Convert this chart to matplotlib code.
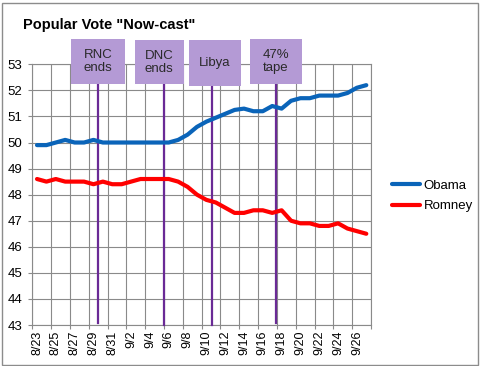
import matplotlib
matplotlib.use('Agg')
import matplotlib.pyplot as plt
from matplotlib.patches import Rectangle
from matplotlib.lines import Line2D

plt.rcParams['font.family'] = ['Liberation Sans', 'DejaVu Sans']

# ---------------- data ----------------
dates = ['8/23', '8/24', '8/25', '8/26', '8/27', '8/28', '8/29', '8/30', '8/31',
         '9/1', '9/2', '9/3', '9/4', '9/5', '9/6', '9/7', '9/8', '9/9', '9/10',
         '9/11', '9/12', '9/13', '9/14', '9/15', '9/16', '9/17', '9/18', '9/19',
         '9/20', '9/21', '9/22', '9/23', '9/24', '9/25', '9/26', '9/27']
obama = [49.9, 49.9, 50.0, 50.1, 50.0, 50.0, 50.1, 50.0, 50.0, 50.0, 50.0, 50.0,
         50.0, 50.0, 50.0, 50.1, 50.3, 50.6, 50.8, 50.95, 51.1, 51.25, 51.3, 51.2,
         51.2, 51.4, 51.3, 51.6, 51.7, 51.7, 51.8, 51.8, 51.8, 51.9, 52.1, 52.2]
romney = [48.6, 48.5, 48.6, 48.5, 48.5, 48.5, 48.4, 48.5, 48.4, 48.4, 48.5, 48.6,
          48.6, 48.6, 48.6, 48.5, 48.3, 48.0, 47.8, 47.7, 47.5, 47.3, 47.3, 47.4,
          47.4, 47.3, 47.4, 47.0, 46.9, 46.9, 46.8, 46.8, 46.9, 46.7, 46.6, 46.5]
series_names = ['Obama', 'Romney']
events = ['RNC\nends', 'DNC\nends', 'Libya', '47%\ntape']
yticks = [43, 44, 45, 46, 47, 48, 49, 50, 51, 52, 53]

# ---------------- layout ----------------
event_x = [6.95, 14.0, 19.1, 25.9]
event_line_bottom = [43.08, 43.0, 43.0, 43.08]
box_left = [4.11, 10.91, 16.65, 23.14]
box_right = [9.85, 16.09, 22.15, 28.63]
box_bottom = [52.26, 52.24, 52.17, 52.23]
box_top = [53.96, 53.93, 53.92, 53.96]

W, H = 480, 366
fig = plt.figure(figsize=(W / 100, H / 100), dpi=100)
ax = fig.add_axes([32.3 / W, 1 - 325 / H, (371 - 32.3) / W, (325 - 64.3) / H])

grid_c = '#8a8a8a'
n = len(dates)
xs = [i + 0.5 for i in range(n)]

ax.set_xlim(0, n)
ax.set_ylim(43, 53)

# grid
ax.set_xticks(range(0, n + 1, 2))
ax.set_xticks([i + 0.5 for i in range(0, n, 2)], minor=True)
ax.set_xticklabels([])
ax.set_xticklabels(dates[::2], minor=True, rotation=90, fontsize=9)
ax.tick_params(axis='x', which='major', length=3, color=grid_c, width=0.8)
ax.tick_params(axis='x', which='minor', length=0, pad=4)
ax.set_yticks(yticks)
ax.set_yticklabels([str(v) for v in yticks], fontsize=9.5)
ax.tick_params(axis='y', length=3, color=grid_c, width=0.8, pad=4)
ax.grid(True, which='major', color=grid_c, linewidth=0.8)
ax.set_axisbelow(True)
for s in ['top', 'right']:
    ax.spines[s].set_visible(False)
for s in ['left', 'bottom']:
    ax.spines[s].set_color(grid_c)
    ax.spines[s].set_linewidth(0.8)
ax.axhline(53, color=grid_c, lw=0.8, clip_on=False, zorder=0.5)
ax.axvline(n, color=grid_c, lw=0.8, clip_on=False, zorder=0.5)

# series
l1, = ax.plot(xs, obama, color='#0a64b9', lw=3.0, solid_capstyle='round', zorder=4)
l2, = ax.plot(xs, romney, color='#ff0000', lw=3.0, solid_capstyle='round', zorder=4)

# events
for lab, ex, lb, bl, br, bb, bt in zip(events, event_x, event_line_bottom,
                                      box_left, box_right, box_bottom, box_top):
    ax.plot([ex, ex], [lb, bb], color='#6a2a96', lw=1.6, clip_on=False, zorder=3)
    ax.add_patch(Rectangle((bl, bb), br - bl, bt - bb, facecolor='#b49ad5',
                           edgecolor='none', clip_on=False, zorder=5))
    ax.text((bl + br) / 2, (bb + bt) / 2, lab, ha='center', va='center',
            fontsize=9.5, color='#2a2a2a', linespacing=1.1, zorder=6)

# legend
fig.legend([l1, l2], series_names, loc='center left',
           bbox_to_anchor=(392 / W, 1 - 195.8 / H), frameon=False,
           fontsize=9.5, handlelength=2.1, handletextpad=0.3,
           labelspacing=0.65, borderpad=0, borderaxespad=0)

# title
fig.text(22.7 / W, 1 - 29.3 / H, 'Popular Vote "Now-cast"', fontsize=10.5,
         fontweight='bold', ha='left', va='baseline')

# chart border
fig.add_artist(Rectangle((1.5 / W, 1.5 / H), (W - 4) / W, (H - 4) / H,
                         transform=fig.transFigure, fill=False,
                         edgecolor='#8c8c8c', lw=1.0))

fig.savefig('out.png', dpi=100)
